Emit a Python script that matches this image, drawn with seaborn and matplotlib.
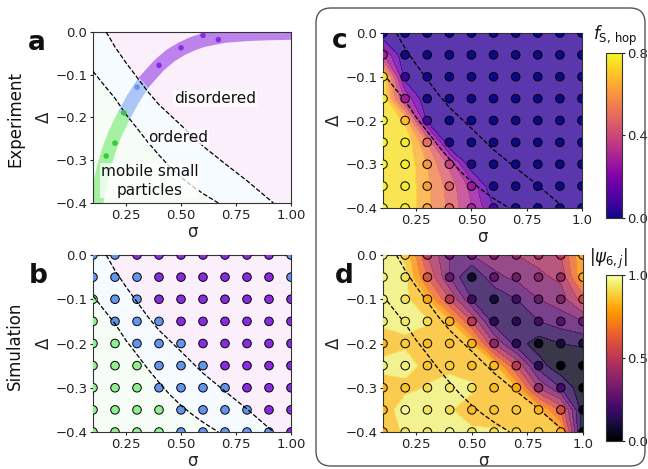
import numpy as np
import pandas as pd
import matplotlib
matplotlib.use("Agg")
import matplotlib.pyplot as plt
import seaborn as sns
from matplotlib.patches import FancyBboxPatch
from matplotlib.colors import Normalize
from matplotlib.cm import ScalarMappable

# ---------------- data ----------------
sigma_grid = [0.1, 0.2, 0.3, 0.4, 0.5, 0.6, 0.7, 0.8, 0.9, 1.0]
delta_grid = [0.0, -0.05, -0.10, -0.15, -0.20, -0.25, -0.30, -0.35, -0.40]

# simulation phase (g = mobile small particles, b = ordered, p = disordered)
phase_rows = [
    "bbpppppppb",
    "bbbppppppb",
    "gbbppppppp",
    "gbbbpppppp",
    "ggbbbppppp",
    "gggbbbpppp",
    "gggbbbbppp",
    "ggggbbbbpp",
    "ggggbbbbbp",
]

fhop_rows = [
    [0.02, 0.00, 0.00, 0.00, 0.00, 0.00, 0.00, 0.00, 0.00, 0.00],
    [0.30, 0.01, 0.00, 0.00, 0.00, 0.00, 0.00, 0.00, 0.00, 0.00],
    [0.75, 0.06, 0.00, 0.00, 0.00, 0.00, 0.00, 0.00, 0.00, 0.00],
    [0.78, 0.28, 0.01, 0.00, 0.00, 0.00, 0.00, 0.00, 0.00, 0.00],
    [0.79, 0.68, 0.08, 0.00, 0.00, 0.00, 0.00, 0.00, 0.00, 0.00],
    [0.79, 0.78, 0.50, 0.01, 0.00, 0.00, 0.00, 0.00, 0.00, 0.00],
    [0.79, 0.78, 0.60, 0.38, 0.02, 0.00, 0.00, 0.00, 0.00, 0.00],
    [0.79, 0.78, 0.62, 0.46, 0.27, 0.01, 0.00, 0.00, 0.00, 0.00],
    [0.79, 0.78, 0.62, 0.48, 0.30, 0.10, 0.01, 0.00, 0.00, 0.00],
]

psi6_rows = [
    [0.95, 0.88, 0.50, 0.30, 0.30, 0.34, 0.40, 0.43, 0.50, 0.80],
    [0.95, 0.92, 0.60, 0.30, 0.08, 0.28, 0.32, 0.38, 0.42, 0.80],
    [0.95, 0.92, 0.80, 0.50, 0.20, 0.10, 0.20, 0.30, 0.35, 0.55],
    [0.93, 0.93, 0.91, 0.82, 0.50, 0.15, 0.15, 0.20, 0.25, 0.30],
    [0.82, 0.88, 0.84, 0.84, 0.82, 0.40, 0.15, 0.05, 0.10, 0.12],
    [0.95, 0.95, 0.86, 0.88, 0.84, 0.84, 0.50, 0.15, 0.02, 0.00],
    [0.82, 0.86, 0.91, 0.93, 0.92, 0.84, 0.80, 0.40, 0.20, 0.02],
    [0.82, 0.98, 0.92, 0.91, 0.84, 0.86, 0.86, 0.82, 0.58, 0.03],
    [0.82, 0.92, 0.92, 0.98, 0.92, 0.91, 0.90, 0.90, 0.82, 0.00],
]

# experiment points
exp_sigma = [0.16, 0.20, 0.24, 0.30, 0.40, 0.50, 0.60, 0.67]
exp_delta = [-0.29, -0.26, -0.189, -0.129, -0.078, -0.037, -0.008, -0.018]
exp_phase = ["g", "g", "g", "b", "p", "p", "p", "p"]

# experimental path band
band_sigma = [0.115, 0.13, 0.15, 0.175, 0.20, 0.24, 0.28, 0.33, 0.40, 0.45,
              0.50, 0.55, 0.60, 0.70, 0.80, 0.90, 1.00]
band_delta = [-0.40, -0.36, -0.315, -0.272, -0.238, -0.196, -0.158, -0.118,
              -0.078, -0.056, -0.040, -0.028, -0.019, -0.009, -0.005, -0.003, -0.002]
band_breaks = [5, 7]  # green -> blue at index 5, blue -> purple at index 7

# boundaries (dashed)
upper_sigma = [0.16, 0.20, 0.25, 0.30, 0.35, 0.40, 0.50, 0.60, 0.70, 0.80, 0.92]
upper_delta = [0.0, -0.035, -0.072, -0.106, -0.14, -0.17, -0.218, -0.267, -0.308, -0.348, -0.40]
lower_sigma = [0.10, 0.15, 0.20, 0.25, 0.30, 0.35, 0.40, 0.45, 0.50, 0.55, 0.60, 0.67]
lower_delta = [-0.092, -0.124, -0.155, -0.193, -0.225, -0.258, -0.288, -0.316, -0.340, -0.360, -0.378, -0.40]

phase_colors = {"g": "lightgreen", "b": "cornflowerblue", "p": "blueviolet"}
exp_colors = {"g": "limegreen", "b": "cornflowerblue", "p": "blueviolet"}

xticks = [0.25, 0.50, 0.75, 1.00]
xtick_labels_ab = ["0.25", "0.50", "0.75", "1.00"]
xtick_labels_cd = ["0.25", "0.50", "0.75", "1.0"]
yticks = [0.0, -0.1, -0.2, -0.3, -0.4]
ytick_labels = ["0.0", "\u22120.1", "\u22120.2", "\u22120.3", "\u22120.4"]

# ---------------- figure ----------------
sns.set_style("ticks")
plt.rcParams["font.family"] = ["DejaVu Sans"]
plt.rcParams["axes.edgecolor"] = "#333333"
plt.rcParams["xtick.color"] = "#222222"
plt.rcParams["ytick.color"] = "#222222"
plt.rcParams["text.color"] = "#111111"

W, H = 648, 469
fig = plt.figure(figsize=(W / 100, H / 100), dpi=100)


def fax(l, t, r, b):
    return fig.add_axes([l / W, 1 - b / H, (r - l) / W, (b - t) / H])


ax_a = fax(93, 32, 291, 203)
ax_b = fax(93, 255, 291, 432)
ax_c = fax(383, 33, 582, 208)
ax_d = fax(383, 255, 583, 432)
cax_c = fax(606, 53, 622, 218)
cax_d = fax(606, 275, 622, 441)

S, D = np.meshgrid(sigma_grid, delta_grid)
MS = 38


def style_axes(ax, xlabels):
    ax.set_xlim(0.1, 1.0)
    ax.set_ylim(-0.4, 0.0)
    ax.set_xticks(xticks)
    ax.set_xticklabels(xlabels)
    ax.set_yticks(yticks)
    ax.set_yticklabels(ytick_labels)
    ax.tick_params(labelsize=9.5, length=2.5, width=0.8, pad=1.5)
    ax.set_xlabel("σ", fontsize=12, labelpad=1)
    ax.set_ylabel("Δ", fontsize=12, labelpad=2)
    for sp in ax.spines.values():
        sp.set_visible(True)
        sp.set_linewidth(0.8)


def phase_background(ax):
    purple_x = upper_sigma + [1.0, 1.0]
    purple_y = upper_delta + [-0.4, 0.0]
    ax.fill(purple_x, purple_y, color="violet", alpha=0.12, lw=0, zorder=0)
    blue_x = [0.1] + upper_sigma + lower_sigma[::-1]
    blue_y = [0.0] + upper_delta + lower_delta[::-1]
    ax.fill(blue_x, blue_y, color="lightskyblue", alpha=0.08, lw=0, zorder=0)
    green_x = lower_sigma + [0.1]
    green_y = lower_delta + [-0.4]
    ax.fill(green_x, green_y, color="lightgreen", alpha=0.08, lw=0, zorder=0)


def dashed(ax, z=4):
    ax.plot(upper_sigma, upper_delta, ls="--", color="black", lw=0.9, zorder=z)
    ax.plot(lower_sigma, lower_delta, ls="--", color="black", lw=0.9, zorder=z)


# ---- panel a ----
phase_background(ax_a)
seg_idx = [0] + band_breaks + [len(band_sigma) - 1]
seg_cols = [("lightgreen", 0.8), ("cornflowerblue", 0.5), ("blueviolet", 0.55)]
for k, (c, al) in enumerate(seg_cols):
    i0, i1 = seg_idx[k], seg_idx[k + 1]
    ax_a.plot(band_sigma[i0:i1 + 1], band_delta[i0:i1 + 1], color=c, alpha=al,
              lw=10, solid_capstyle="butt", zorder=1)
dashed(ax_a)
df_exp = pd.DataFrame({"sigma": exp_sigma, "delta": exp_delta, "phase": exp_phase})
sns.scatterplot(data=df_exp, x="sigma", y="delta", hue="phase", palette=exp_colors,
                s=16, edgecolor="none", legend=False, ax=ax_a, zorder=5)
txt_box = dict(facecolor="white", alpha=0.75, edgecolor="none", pad=0.5)
ax_a.text(0.655, -0.156, "disordered", ha="center", va="center", fontsize=11, bbox=txt_box, zorder=6)
ax_a.text(0.488, -0.246, "ordered", ha="center", va="center", fontsize=11, bbox=txt_box, zorder=6)
ax_a.text(0.358, -0.348, "mobile small\nparticles", ha="center", va="center", fontsize=11,
          linespacing=1.3, bbox=txt_box, zorder=6)
style_axes(ax_a, xtick_labels_ab)

# ---- panel b ----
phase_background(ax_b)
dashed(ax_b)
df_b = pd.DataFrame({
    "sigma": S.ravel(),
    "delta": D.ravel(),
    "phase": [ch for row in phase_rows for ch in row],
})
sns.scatterplot(data=df_b, x="sigma", y="delta", hue="phase", palette=phase_colors,
                s=MS, edgecolor="black", linewidth=0.7, legend=False, ax=ax_b, zorder=3)
style_axes(ax_b, xtick_labels_ab)

# ---- panel c ----
F = np.array(fhop_rows)
norm_c = Normalize(0, 0.8)
ax_c.contourf(sigma_grid, delta_grid, F, levels=np.linspace(0, 0.8, 9), cmap="plasma",
              norm=norm_c, alpha=0.8, zorder=0)
dashed(ax_c, z=2)
df_c = pd.DataFrame({"sigma": S.ravel(), "delta": D.ravel(), "v": F.ravel()})
sns.scatterplot(data=df_c, x="sigma", y="delta", hue="v", palette="plasma", hue_norm=norm_c,
                s=MS, edgecolor="black", linewidth=0.7, legend=False, ax=ax_c, zorder=3)
style_axes(ax_c, xtick_labels_cd)
cb_c = fig.colorbar(ScalarMappable(norm=norm_c, cmap="plasma"), cax=cax_c, ticks=[0, 0.4, 0.8])
cb_c.ax.set_yticklabels(["0.0", "0.4", "0.8"])
cb_c.ax.tick_params(labelsize=9.5, length=2.5, pad=1.5)
cb_c.outline.set_linewidth(0.8)
fig.text(615 / W, 1 - 36 / H, r"$f_{\mathrm{S,\,hop}}$", ha="center", va="center", fontsize=12)

# ---- panel d ----
P = np.array(psi6_rows)
norm_d = Normalize(0, 1)
ax_d.contourf(sigma_grid, delta_grid, P, levels=np.linspace(0, 1, 11), cmap="inferno",
              norm=norm_d, alpha=0.8, zorder=0)
dashed(ax_d, z=2)
df_d = pd.DataFrame({"sigma": S.ravel(), "delta": D.ravel(), "v": P.ravel()})
sns.scatterplot(data=df_d, x="sigma", y="delta", hue="v", palette="inferno", hue_norm=norm_d,
                s=MS, edgecolor="black", linewidth=0.7, legend=False, ax=ax_d, zorder=3)
style_axes(ax_d, xtick_labels_cd)
cb_d = fig.colorbar(ScalarMappable(norm=norm_d, cmap="inferno"), cax=cax_d, ticks=[0, 0.5, 1.0])
cb_d.ax.set_yticklabels(["0.0", "0.5", "1.0"])
cb_d.ax.tick_params(labelsize=9.5, length=2.5, pad=1.5)
cb_d.outline.set_linewidth(0.8)
fig.text(609 / W, 1 - 259 / H, r"$|\psi_{6,j}|$", ha="center", va="center", fontsize=12)

# ---- labels ----
for lab, x, yb in [("a", 28, 50), ("b", 29, 283), ("c", 332, 48), ("d", 335, 283)]:
    fig.text(x / W, 1 - yb / H, lab, fontsize=19, fontweight="bold", ha="left", va="baseline")
fig.text(15 / W, 1 - 119 / H, "Experiment", rotation=90, ha="center", va="center", fontsize=12)
fig.text(15 / W, 1 - 346 / H, "Simulation", rotation=90, ha="center", va="center", fontsize=12)

# rounded frame around c & d
box = FancyBboxPatch((3.16, 0.03), 3.29, 4.58, boxstyle="round,pad=0,rounding_size=0.15",
                     transform=fig.dpi_scale_trans, fill=False, edgecolor="#555555", lw=1.0,
                     clip_on=False)
fig.add_artist(box)

fig.savefig("out.png", dpi=100)
